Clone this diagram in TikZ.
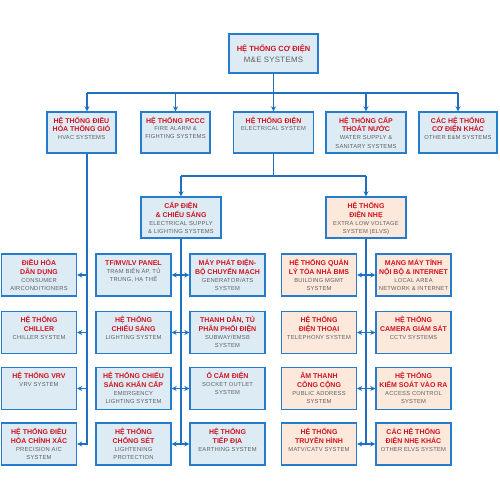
\documentclass[tikz,border=0pt]{standalone}
\usepackage{fontspec}
\setmainfont{Liberation Sans}
\usepackage{xcolor}
\usetikzlibrary{arrows.meta,positioning,calc}
\definecolor{lineblue}{RGB}{31,112,193}
\definecolor{edgeblue}{RGB}{38,124,204}
\definecolor{fillblue}{RGB}{221,236,244}
\definecolor{fillpeach}{RGB}{252,233,220}
\definecolor{titlered}{RGB}{210,18,32}
\definecolor{subgray}{RGB}{95,95,95}
\newcommand{\vntext}[1]{{\color{titlered}\bfseries\fontsize{7}{9}\selectfont #1\par}}
\newcommand{\entext}[1]{{\color{subgray}\fontsize{5.8}{8}\selectfont\addfontfeatures{LetterSpace=4}#1\par}}

\begin{document}
\begin{tikzpicture}[x=1pt,y=-1pt,
  boxbase/.style={draw=edgeblue,line width=1.4pt,fill=fillblue,align=flush center,
    text width=75pt,inner xsep=0pt,inner ysep=3pt},
  sysbox/.style={boxbase,text height=8pt,text depth=28pt},
  elvsbox/.style={sysbox,fill=fillpeach},
  wire/.style={draw=lineblue,line width=1.2pt},
  flow/.style={wire,-{Stealth[length=5pt,width=5pt]}}]
\fill[white] (0,0) rectangle (500,500);
\useasboundingbox (0,0) rectangle (500,500);

% top level
\node[boxbase,text width=89pt,minimum height=39pt] (mes) at (273.5,53.5)
  {{\color{titlered}\bfseries\fontsize{7.5}{11}\selectfont HỆ THỐNG CƠ ĐIỆN\par}%
   {\color{subgray}\fontsize{7.8}{11}\selectfont\addfontfeatures{LetterSpace=4}M\&E SYSTEMS\par}};

% main systems
\node[sysbox,text width=69pt,text depth=27pt] (hvac) at (81.5,132.5)
  {\vntext{HỆ THỐNG ĐIỀU\\HÒA THÔNG GIÓ}\entext{HVAC SYSTEMS}};
\node[sysbox,text width=69pt,text depth=27pt] (pccc) at (175.5,132.5)
  {\vntext{HỆ THỐNG PCCC}\entext{FIRE ALARM \&\\FIGHTING SYSTEMS}};
\node[sysbox,text width=80pt,text depth=27pt] (elec) at (273.5,132.5)
  {\vntext{HỆ THỐNG ĐIỆN}\entext{ELECTRICAL SYSTEM}};
\node[sysbox,text width=80pt,text depth=27pt] (water) at (366,132.5)
  {\vntext{HỆ THỐNG CẤP\\THOÁT NƯỚC}\entext{WATER SUPPLY \&\\SANITARY SYSTEMS}};
\node[sysbox,text width=78pt,text depth=27pt] (othermep) at (458,132.5)
  {\vntext{CÁC HỆ THỐNG\\CƠ ĐIỆN KHÁC}\entext{OTHER E\&M SYSTEMS}};

% electrical branches
\node[sysbox,text width=80pt,text depth=27pt] (supply) at (181,217.5)
  {\vntext{CẤP ĐIỆN\\\& CHIẾU SÁNG}\entext{ELECTRICAL SUPPLY\\\& LIGHTING SYSTEMS}};
\node[elvsbox,text width=80pt,text depth=27pt] (elvs) at (366,217.5)
  {\vntext{HỆ THỐNG\\ĐIỆN NHẸ}\entext{EXTRA LOW VOLTAGE\\SYSTEM (ELVS)}};

% hvac column
\node[sysbox] (dandung) at (39,275)
  {\vntext{ĐIỀU HÒA\\DÂN DỤNG}\entext{CONSUMER\\AIRCONDITIONERS}};
\node[sysbox] (chiller) at (39,332.5)
  {\vntext{HỆ THỐNG\\CHILLER}\entext{CHILLER SYSTEM}};
\node[sysbox] (vrv) at (39,388.5)
  {\vntext{HỆ THỐNG VRV}\entext{VRV SYSTEM}};
\node[sysbox] (precise) at (39,444)
  {\vntext{HỆ THỐNG ĐIỀU\\HÒA CHÍNH XÁC}\entext{PRECISION A/C\\SYSTEM}};

% supply columns
\node[sysbox] (panel) at (133.5,275)
  {\vntext{TF/MV/LV PANEL}\entext{TRẠM BIẾN ÁP, TỦ\\TRUNG, HẠ THẾ}};
\node[sysbox] (light) at (133.5,332.5)
  {\vntext{HỆ THỐNG\\CHIẾU SÁNG}\entext{LIGHTING SYSTEM}};
\node[sysbox] (emerg) at (133.5,388.5)
  {\vntext{HỆ THỐNG CHIẾU\\SÁNG KHẨN CẤP}\entext{EMERGENCY\\LIGHTING SYSTEM}};
\node[sysbox] (surge) at (133.5,444)
  {\vntext{HỆ THỐNG\\CHỐNG SÉT}\entext{LIGHTENING\\PROTECTION}};
\node[sysbox] (genset) at (227.5,275)
  {\vntext{MÁY PHÁT ĐIỆN-\\BỘ CHUYỂN MẠCH}\entext{GENERATOR/ATS\\SYSTEM}};
\node[sysbox] (busway) at (227.5,332.5)
  {\vntext{THANH DẪN, TỦ\\PHÂN PHỐI ĐIỆN}\entext{SUBWAY/EMSB\\SYSTEM}};
\node[sysbox] (socket) at (227.5,388.5)
  {\vntext{Ổ CẮM ĐIỆN}\entext{SOCKET OUTLET\\SYSTEM}};
\node[sysbox] (earth) at (227.5,444)
  {\vntext{HỆ THỐNG\\TIẾP ĐỊA}\entext{EARTHING SYSTEM}};

% elvs columns
\node[elvsbox] (bms) at (319,275)
  {\vntext{HỆ THỐNG QUẢN\\LÝ TÒA NHÀ BMS}\entext{BUILDING MGMT\\SYSTEM}};
\node[elvsbox] (phone) at (319,332.5)
  {\vntext{HỆ THỐNG\\ĐIỆN THOẠI}\entext{TELEPHONY SYSTEM}};
\node[elvsbox] (pa) at (319,388.5)
  {\vntext{ÂM THANH\\CÔNG CỘNG}\entext{PUBLIC ADDRESS\\SYSTEM}};
\node[elvsbox] (matv) at (319,444)
  {\vntext{HỆ THỐNG\\TRUYỀN HÌNH}\entext{MATV/CATV SYSTEM}};
\node[elvsbox] (lan) at (413.5,275)
  {\vntext{MẠNG MÁY TÍNH\\NỘI BỘ \& INTERNET}\entext{LOCAL AREA\\NETWORK \& INTERNET}};
\node[elvsbox] (cctv) at (413.5,332.5)
  {\vntext{HỆ THỐNG\\CAMERA GIÁM SÁT}\entext{CCTV SYSTEMS}};
\node[elvsbox] (access) at (413.5,388.5)
  {\vntext{HỆ THỐNG\\KIỂM SOÁT VÀO RA}\entext{ACCESS CONTROL\\SYSTEM}};
\node[elvsbox] (otherelvs) at (413.5,444)
  {\vntext{CÁC HỆ THỐNG\\ĐIỆN NHẸ KHÁC}\entext{OTHER ELVS SYSTEM}};

% connectors
\coordinate (busL) at (87,93);
\coordinate (busR) at (458,93);
\coordinate (ebusL) at (181,176);
\coordinate (ebusR) at (366,176);
\draw[wire] (mes.south) -- (mes.south |- busL);
\draw[wire] (busL) -- (busR);
\draw[flow] (busL) -- (busL |- hvac.north);
\foreach \n in {pccc,elec,water,othermep}
  \draw[flow] (\n.north |- busL) -- (\n.north);

\draw[wire] (elec.south) -- (elec.south |- ebusL);
\draw[wire] (ebusL) -- (ebusR);
\draw[flow] (ebusL) -- (supply.north);
\draw[flow] (ebusR) -- (elvs.north);

\draw[flow] (busL |- hvac.south) |- (precise.east);
\foreach \n in {dandung,chiller,vrv}
  \draw[flow] (busL |- \n.east) -- (\n.east);

\draw[wire] (supply.south) -- (supply.south |- earth.west);
\foreach \l/\r in {panel/genset,light/busway,emerg/socket,surge/earth}{
  \draw[flow] (supply.south |- \l.east) -- (\l.east);
  \draw[flow] (supply.south |- \r.west) -- (\r.west);
}
\draw[wire] (elvs.south) -- (elvs.south |- otherelvs.west);
\foreach \l/\r in {bms/lan,phone/cctv,pa/access,matv/otherelvs}{
  \draw[flow] (elvs.south |- \l.east) -- (\l.east);
  \draw[flow] (elvs.south |- \r.west) -- (\r.west);
}
\end{tikzpicture}
\end{document}
